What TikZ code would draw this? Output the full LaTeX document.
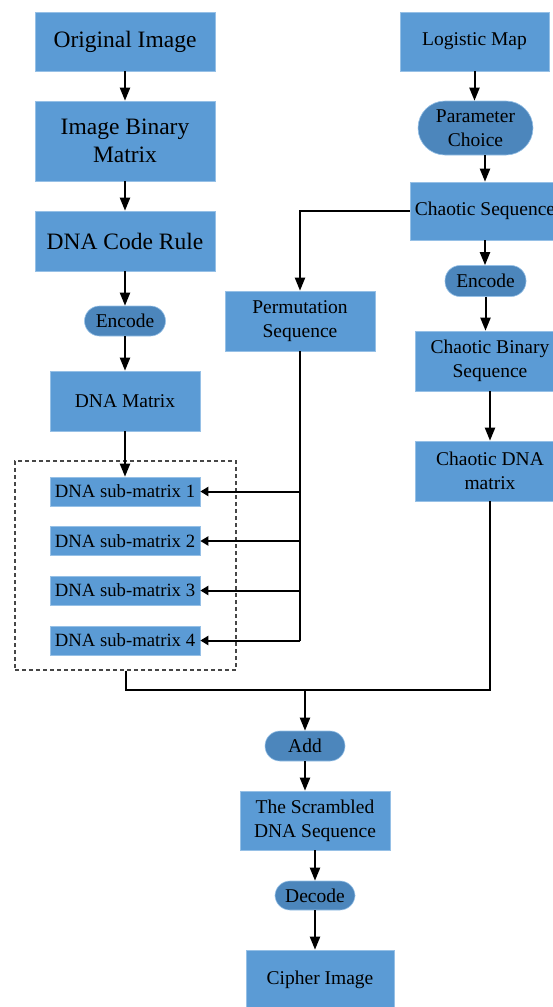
\documentclass[tikz,border=0pt]{standalone}
\usepackage{fontspec}
\setmainfont{Liberation Serif}
\usetikzlibrary{arrows.meta}
\definecolor{boxblue}{RGB}{91,155,213}
\definecolor{pillblue}{RGB}{76,134,188}
\definecolor{edgeblue}{RGB}{150,192,230}
\definecolor{dashgray}{RGB}{70,70,70}
\begin{document}
\begin{tikzpicture}[x=1pt,y=-1pt,
  big/.style={font=\fontsize{23.5}{28}\selectfont},
  small/.style={font=\fontsize{19.5}{24}\selectfont},
  tiny/.style={font=\fontsize{18.7}{22}\selectfont},
  box/.style={rectangle, fill=boxblue, draw=edgeblue, line width=0.6pt,
    inner sep=0pt, align=center, text=black},
  pill/.style={box, fill=pillblue, small},
  flow/.style={line width=2pt, -{Triangle[length=13pt,width=10pt]}},
  feed/.style={line width=2pt, -{Triangle[length=8pt,width=9pt]}},
  link/.style={line width=2pt},
  group/.style={draw=dashgray, line width=1.1pt, dash pattern=on 4pt off 3pt}
]
\useasboundingbox (0,0) rectangle (553,1007);

% left column: image side
\node[box, big, minimum width=180, minimum height=59] (orig) at (125,41.5) {Original Image};
\node[box, big, minimum width=180, minimum height=80] (ibm) at (125,141) {Image Binary\\Matrix};
\node[box, big, minimum width=180, minimum height=60] (dcr) at (125,241) {DNA Code Rule};
\node[pill, rounded corners=15pt, minimum width=81, minimum height=30] (enc1) at (125,321) {Encode};
\node[box, small, minimum width=150, minimum height=60] (dnam) at (125,401) {DNA Matrix};

% grouped sub-matrices
\node[group, rectangle, minimum width=221, minimum height=209, inner sep=0pt] (grp) at (125.5,565.5) {};
\node[box, tiny, minimum width=150, minimum height=29] (sub1) at (125,491.5) {DNA sub-matrix 1};
\node[box, tiny, minimum width=150, minimum height=29] (sub2) at (125,541) {DNA sub-matrix 2};
\node[box, tiny, minimum width=150, minimum height=29] (sub3) at (125,590.5) {DNA sub-matrix 3};
\node[box, tiny, minimum width=150, minimum height=29] (sub4) at (125,640.5) {DNA sub-matrix 4};

% right column: chaotic side
\node[box, small, minimum width=149, minimum height=59] (logi) at (474.5,41.5) {Logistic Map};
\node[pill, rounded corners=27pt, minimum width=115, minimum height=54] (param) at (475.5,128) {Parameter\\Choice};
\node[box, small, minimum width=150, minimum height=58] (chseq) at (485,211) {Chaotic Sequence};
\node[pill, rounded corners=15pt, minimum width=81, minimum height=31] (enc2) at (485.5,281) {Encode};
\node[box, small, minimum width=150, minimum height=60] (cbs) at (490,361) {Chaotic Binary\\Sequence};
\node[box, small, minimum width=150, minimum height=60] (cdna) at (490,471) {Chaotic DNA\\matrix};

% middle column
\node[box, small, minimum width=150, minimum height=60] (perm) at (300,321) {Permutation\\Sequence};
\node[pill, rounded corners=15pt, minimum width=80, minimum height=30] (add) at (305,746) {Add};
\node[box, small, minimum width=150, minimum height=59] (scr) at (315,820.5) {The Scrambled\\DNA Sequence};
\node[pill, rounded corners=15pt, minimum width=80, minimum height=29] (dec) at (315,895.5) {Decode};
\node[box, small, minimum width=148, minimum height=60] (ciph) at (320,980) {Cipher Image};

% junction points
\coordinate (split) at (300,640.5);
\coordinate (merge) at (305,690);

% image chain
\draw[flow] (orig) -- (ibm);
\draw[flow] (ibm) -- (dcr);
\draw[flow] (dcr) -- (enc1);
\draw[flow] (enc1) -- (dnam);
\draw[flow] (dnam) -- (sub1);

% chaotic chain
\draw[flow] (logi.south) -- (logi.south |- param.north);
\draw[flow] (chseq.north |- param.south) -- (chseq.north);
\draw[flow] (chseq.south) -- (chseq.south |- enc2.north);
\draw[flow] (enc2.south) -- (enc2.south |- cbs.north);
\draw[flow] (cbs) -- (cdna);

% permutation branch
\draw[flow] (chseq.west) -| (perm.north);
\draw[link] (perm.south) -- (split);
\draw[feed] (perm.south |- sub1.east) -- (sub1.east);
\draw[feed] (perm.south |- sub2.east) -- (sub2.east);
\draw[feed] (perm.south |- sub3.east) -- (sub3.east);
\draw[feed] (split) -- (sub4.east);

% merge and output
\draw[link] (grp.south) -- (grp.south |- merge) -| (cdna.south);
\draw[flow] (merge) -- (add.north);
\draw[flow] (add.south) -- (add.south |- scr.north);
\draw[flow] (scr.south -| dec.north) -- (dec.north);
\draw[flow] (dec.south) -- (dec.south |- ciph.north);
\end{tikzpicture}
\end{document}
